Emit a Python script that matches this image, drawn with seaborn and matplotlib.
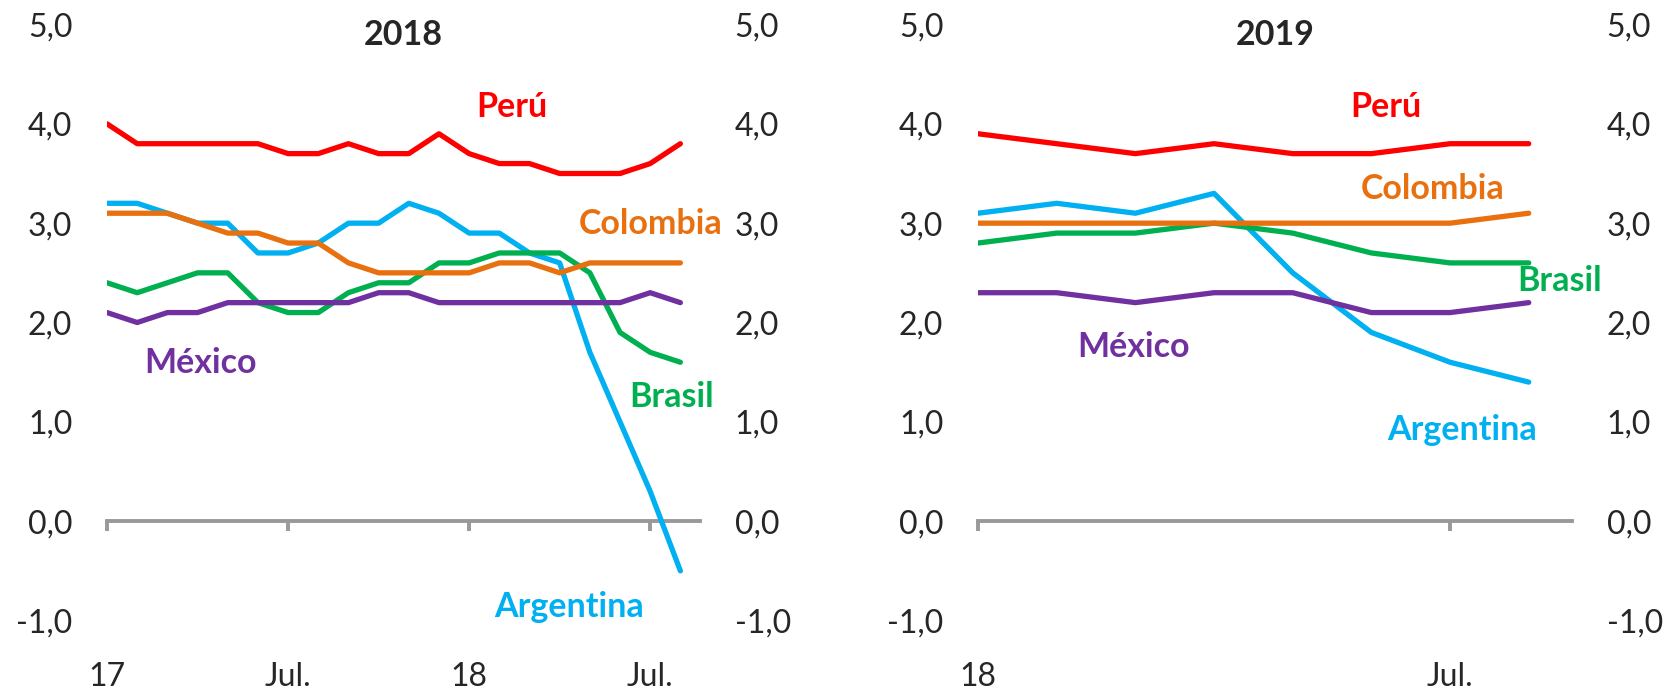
import numpy as np
import pandas as pd
import matplotlib
matplotlib.use("Agg")
import matplotlib.pyplot as plt
import seaborn as sns

# Forecast for 2018 growth, monthly Jan-17 .. Aug-18
peru_2018 = [4.0, 3.8, 3.8, 3.8, 3.8, 3.8, 3.7, 3.7, 3.8, 3.7,
             3.7, 3.9, 3.7, 3.6, 3.6, 3.5, 3.5, 3.5, 3.6, 3.8]
colombia_2018 = [3.1, 3.1, 3.1, 3.0, 2.9, 2.9, 2.8, 2.8, 2.6, 2.5,
                 2.5, 2.5, 2.5, 2.6, 2.6, 2.5, 2.6, 2.6, 2.6, 2.6]
argentina_2018 = [3.2, 3.2, 3.1, 3.0, 3.0, 2.7, 2.7, 2.8, 3.0, 3.0,
                  3.2, 3.1, 2.9, 2.9, 2.7, 2.6, 1.7, 1.0, 0.3, -0.5]
brasil_2018 = [2.4, 2.3, 2.4, 2.5, 2.5, 2.2, 2.1, 2.1, 2.3, 2.4,
               2.4, 2.6, 2.6, 2.7, 2.7, 2.7, 2.5, 1.9, 1.7, 1.6]
mexico_2018 = [2.1, 2.0, 2.1, 2.1, 2.2, 2.2, 2.2, 2.2, 2.2, 2.3,
               2.3, 2.2, 2.2, 2.2, 2.2, 2.2, 2.2, 2.2, 2.3, 2.2]

# Forecast for 2019 growth, monthly Jan-18 .. Aug-18
peru_2019 = [3.9, 3.8, 3.7, 3.8, 3.7, 3.7, 3.8, 3.8]
colombia_2019 = [3.0, 3.0, 3.0, 3.0, 3.0, 3.0, 3.0, 3.1]
argentina_2019 = [3.1, 3.2, 3.1, 3.3, 2.5, 1.9, 1.6, 1.4]
brasil_2019 = [2.8, 2.9, 2.9, 3.0, 2.9, 2.7, 2.6, 2.6]
mexico_2019 = [2.3, 2.3, 2.2, 2.3, 2.3, 2.1, 2.1, 2.2]

countries = ["Argentina", "Brasil", "Colombia", "México", "Perú"]
colors = {"Perú": "#FF0000", "Colombia": "#E8700F", "Argentina": "#00B0F0",
          "Brasil": "#00B050", "México": "#7030A0"}

ticks_2018 = [0, 6, 12, 18]
ticklabels_2018 = ["17", "Jul.", "18", "Jul."]
ticks_2019 = [0, 6]
ticklabels_2019 = ["18", "Jul."]
yticks = [-1, 0, 1, 2, 3, 4, 5]

# label anchors (month index, value)
labels_2018 = {"Perú": (13.4, 4.17), "Colombia": (18.0, 2.99), "México": (3.1, 1.59),
               "Brasil": (18.7, 1.25), "Argentina": (15.3, -0.86)}
labels_2019 = {"Perú": (5.18, 4.17), "Colombia": (5.78, 3.34), "Brasil": (7.39, 2.42),
               "México": (1.98, 1.75), "Argentina": (6.15, 0.92)}


def to_long(series):
    rows = []
    for name, vals in series.items():
        for i, v in enumerate(vals):
            rows.append({"mes": i, "valor": v, "pais": name})
    return pd.DataFrame(rows)


df_2018 = to_long({"Perú": peru_2018, "Colombia": colombia_2018, "Argentina": argentina_2018,
                   "Brasil": brasil_2018, "México": mexico_2018})
df_2019 = to_long({"Perú": peru_2019, "Colombia": colombia_2019, "Argentina": argentina_2019,
                   "Brasil": brasil_2019, "México": mexico_2019})

sns.set_theme(style="white")
plt.rcParams["font.family"] = ["Lato", "DejaVu Sans"]
FS = 23
FS_BOLD = 24.5
GRAY = "#999999"

fig = plt.figure(figsize=(16.75, 6.9), dpi=100)
ax1 = fig.add_axes([0.0639, 0.1007, 0.3540, 0.8638])
ax2 = fig.add_axes([0.5839, 0.1007, 0.3546, 0.8638])


def draw_panel(ax, df, xmax, ticks, ticklabels, title, labels):
    sns.lineplot(data=df, x="mes", y="valor", hue="pais", hue_order=countries,
                 palette=colors, lw=3.8, legend=False, ax=ax, zorder=3)
    ax.set_xlim(0, xmax)
    ax.set_ylim(-1, 5)
    ax.set_xlabel("")
    ax.set_ylabel("")
    for s in ["top", "left", "right"]:
        ax.spines[s].set_visible(False)
    ax.spines["bottom"].set_position(("data", 0))
    ax.spines["bottom"].set_color(GRAY)
    ax.spines["bottom"].set_linewidth(2.8)
    ax.spines["bottom"].set_zorder(2)
    ax.set_xticks(ticks)
    ax.tick_params(axis="x", bottom=True, direction="out", length=7, width=2.8,
                   color=GRAY, labelbottom=False)
    ax.set_yticks(yticks)
    ax.set_yticklabels([f"{v:.1f}".replace(".", ",") for v in yticks])
    ax.tick_params(axis="y", left=False, right=False, labelleft=True, labelright=True,
                   length=0, pad=25, labelsize=FS)

    sec = ax.secondary_xaxis("bottom")
    sec.set_xticks(ticks, ticklabels)
    sec.tick_params(bottom=False, length=0, pad=30, labelsize=FS)
    sec.spines["bottom"].set_visible(False)

    ax.text(0.5, 0.982, title, transform=ax.transAxes, ha="center", va="center",
            fontsize=FS_BOLD, fontweight="bold")
    for name, (x, y) in labels.items():
        ax.text(x, y, name, color=colors[name], ha="center", va="center",
                fontsize=FS_BOLD, fontweight="bold")


draw_panel(ax1, df_2018, 19.65, ticks_2018, ticklabels_2018, "2018", labels_2018)
draw_panel(ax2, df_2019, 7.55, ticks_2019, ticklabels_2019, "2019", labels_2019)

fig.savefig("out.png", dpi=100)
